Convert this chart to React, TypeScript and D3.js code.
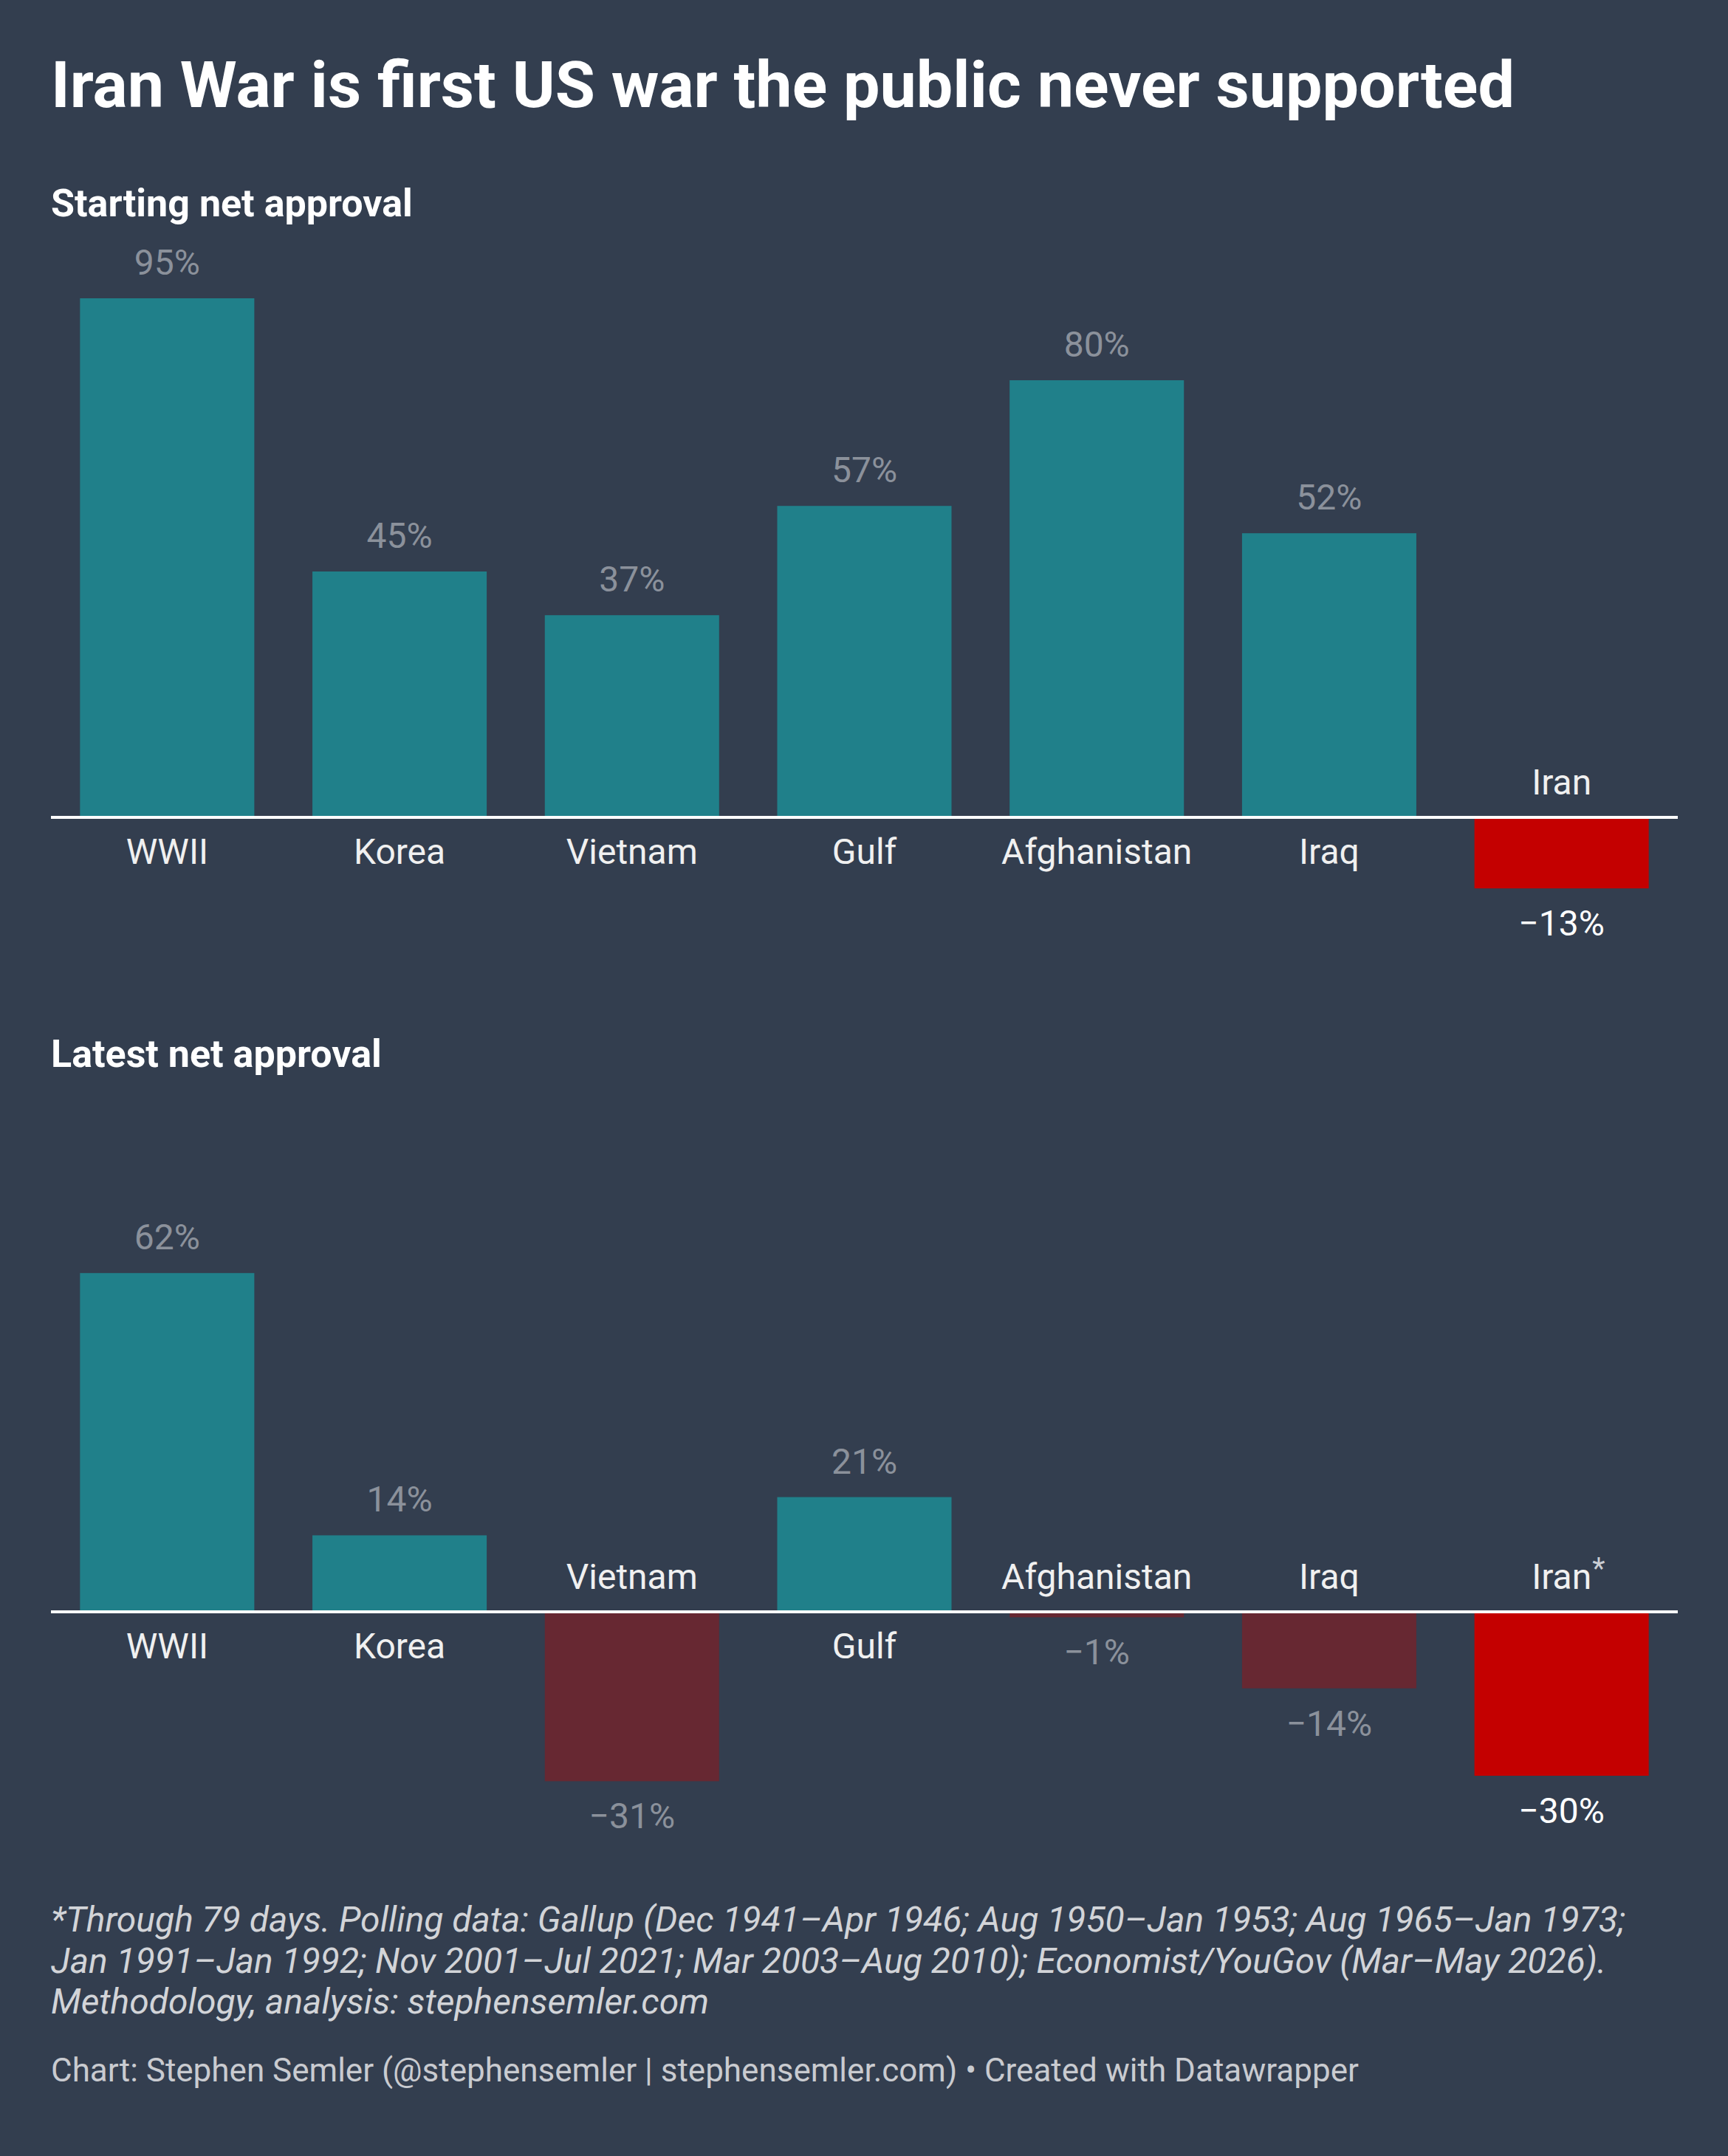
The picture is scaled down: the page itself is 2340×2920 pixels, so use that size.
import { useEffect, useRef } from "react";
import * as d3 from "d3";

const wars = ["WWII", "Korea", "Vietnam", "Gulf", "Afghanistan", "Iraq", "Iran"];
const startingApproval = [95, 45, 37, 57, 80, 52, -13];
const latestApproval = [62, 14, -31, 21, -1, -14, -30];

const titleText = "Iran War is first US war the public never supported";
const startingSubtitle = "Starting net approval";
const latestSubtitle = "Latest net approval";
const footnoteLines = [
	"*Through 79 days. Polling data: Gallup (Dec 1941–Apr 1946; Aug 1950–Jan 1953; Aug 1965–Jan 1973;",
	"Jan 1991–Jan 1992; Nov 2001–Jul 2021; Mar 2003–Aug 2010); Economist/YouGov (Mar–May 2026).",
	"Methodology, analysis: stephensemler.com",
];
const creditText = "Chart: Stephen Semler (@stephensemler | stephensemler.com) • Created with Datawrapper";

const WIDTH = 2340;
const HEIGHT = 2920;
const BG = "#333e4f";
const TEAL = "#20808a";
const DARK_RED = "#672832";
const RED = "#c40000";
const VALUE_GRAY = "#8b919b";
const LABEL = "#f0f0f0";
const FONT = "Roboto, 'Noto Sans', sans-serif";

const formatPct = (v: number) => (v < 0 ? `\u2212${Math.abs(v)}%` : `${v}%`);

export default function App() {
	const ref = useRef<HTMLDivElement>(null);

	useEffect(() => {
		if (!ref.current) return;
		document.body.style.margin = "0";
		const container = ref.current;

		const svg = d3
			.select(container)
			.append("svg")
			.attr("width", WIDTH)
			.attr("height", HEIGHT)
			.style("display", "block")
			.attr("font-family", FONT);

		svg.append("rect").attr("width", WIDTH).attr("height", HEIGHT).attr("fill", BG);

		svg
			.append("text")
			.attr("x", 69)
			.attr("y", 145)
			.attr("fill", "#ffffff")
			.attr("font-size", 88)
			.attr("font-weight", 700)
			.text(titleText);

		const x = d3.scaleBand<string>().domain(wars).range([69, 2272]).paddingInner(0.25).paddingOuter(0.125);

		const drawPanel = (values: number[], subtitle: string, subtitleY: number, zeroY: number, star: boolean) => {
			const y = d3.scaleLinear().domain([0, 100]).range([zeroY, zeroY - 740]);
			const g = svg.append("g");

			g.append("text")
				.attr("x", 69)
				.attr("y", subtitleY)
				.attr("fill", "#ffffff")
				.attr("font-size", 52)
				.attr("font-weight", 700)
				.text(subtitle);

			const rows = wars.map((war, i) => ({ war, value: values[i], iran: war === "Iran" }));

			g.selectAll("rect.bar")
				.data(rows)
				.join("rect")
				.attr("class", "bar")
				.attr("x", (d) => x(d.war) ?? 0)
				.attr("width", x.bandwidth())
				.attr("y", (d) => (d.value >= 0 ? y(d.value) : zeroY + 2))
				.attr("height", (d) => (d.value >= 0 ? zeroY - 2 - y(d.value) : y(d.value) - zeroY - 2))
				.attr("fill", (d) => (d.value >= 0 ? TEAL : d.iran ? RED : DARK_RED));

			g.append("line")
				.attr("x1", 69)
				.attr("x2", 2272)
				.attr("y1", zeroY)
				.attr("y2", zeroY)
				.attr("stroke", "#ffffff")
				.attr("stroke-width", 4);

			// category labels: below the axis for positive bars, above for negative
			const cat = g
				.selectAll("text.cat")
				.data(rows)
				.join("text")
				.attr("class", "cat")
				.attr("x", (d) => (x(d.war) ?? 0) + x.bandwidth() / 2)
				.attr("y", (d) => (d.value >= 0 ? zeroY + 63 : zeroY - 31))
				.attr("text-anchor", "middle")
				.attr("fill", LABEL)
				.attr("font-size", 48)
				.text((d) => d.war);

			if (star) {
				cat.filter((d) => d.iran).each(function (d) {
					const len = (this as SVGTextElement).getComputedTextLength();
					g.append("text")
						.attr("x", (x(d.war) ?? 0) + x.bandwidth() / 2 + len / 2 + 1)
						.attr("y", (d.value >= 0 ? zeroY + 63 : zeroY - 31) - 14)
						.attr("font-size", 40)
						.attr("fill", "#c9cdd3")
						.text("*");
				});
			}

			g.selectAll("text.val")
				.data(rows)
				.join("text")
				.attr("class", "val")
				.attr("x", (d) => (x(d.war) ?? 0) + x.bandwidth() / 2)
				.attr("y", (d) => (d.value >= 0 ? y(d.value) - 32 : y(d.value) + 64))
				.attr("text-anchor", "middle")
				.attr("fill", (d) => (d.iran ? "#ffffff" : VALUE_GRAY))
				.attr("font-size", 48)
				.attr("stroke", BG)
				.attr("stroke-width", 6)
				.attr("paint-order", "stroke")
				.text((d) => formatPct(d.value));
		};

		drawPanel(startingApproval, startingSubtitle, 293, 1107, false);
		drawPanel(latestApproval, latestSubtitle, 1445, 2183, true);

		svg.append("g")
			.selectAll("text")
			.data(footnoteLines)
			.join("text")
			.attr("x", 69)
			.attr("y", (_, i) => 2616 + i * 55.5)
			.attr("fill", "#d2d4d8")
			.attr("font-size", 48)
			.attr("font-style", "italic")
			.text((d) => d);

		svg.append("text")
			.attr("x", 69)
			.attr("y", 2819)
			.attr("fill", "#c9cbd0")
			.attr("font-size", 44)
			.text(creditText);

		return () => {
			svg.remove();
		};
	}, []);

	return <div ref={ref} />;
}
